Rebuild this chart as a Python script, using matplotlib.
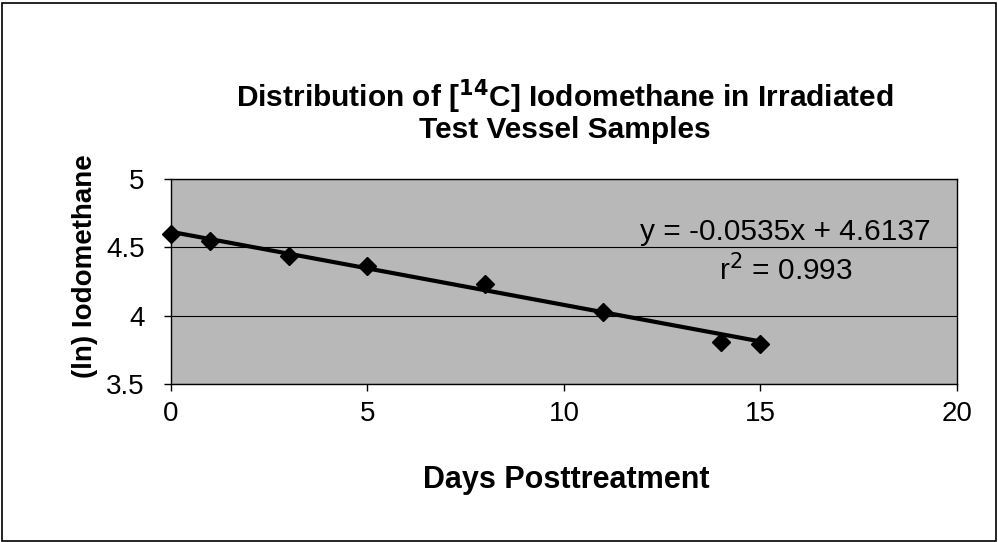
import matplotlib
matplotlib.use("Agg")
import matplotlib.pyplot as plt
import numpy as np
from matplotlib.patches import Rectangle

plt.rcParams['font.family'] = ['Liberation Sans', 'DejaVu Sans']

days = [0, 1, 3, 5, 8, 11, 14, 15]
ln_iodo = [4.60, 4.55, 4.44, 4.36, 4.23, 4.03, 3.81, 3.79]
slope = -0.0535
intercept = 4.6137
r2 = 0.993
x_ticks = [0, 5, 10, 15, 20]
y_ticks = [3.5, 4, 4.5, 5]

fig = plt.figure(figsize=(9.98, 5.42), dpi=100)
fig.patches.append(Rectangle((0.002, 0.002), 0.996, 0.993, transform=fig.transFigure,
                             fill=False, edgecolor='black', linewidth=1.2))

ax = fig.add_axes([0.1713, 0.2915, 0.7876, 0.3782])
ax.set_facecolor('#b8b8b8')
ax.set_xlim(0, 20)
ax.set_ylim(3.5, 5)
ax.set_xticks(x_ticks)
ax.set_yticks(y_ticks)
ax.set_yticklabels(['3.5', '4', '4.5', '5'])
ax.grid(axis='y', color='black', linewidth=0.8)
ax.set_axisbelow(True)
for s in ax.spines.values():
    s.set_linewidth(1.0)
ax.tick_params(direction='out', length=5, width=1, labelsize=20)
ax.tick_params(axis='x', pad=7)
ax.tick_params(axis='y', pad=14)

xs = np.array([days[0], days[-1]])
ax.plot(xs, slope * xs + intercept, color='black', linewidth=3, zorder=3)
ax.plot(days, ln_iodo, linestyle='none', marker='D', markersize=9,
        color='black', zorder=4, clip_on=False)

ax.text(0.781, 0.742, f"y = {slope}x + {intercept}", transform=ax.transAxes,
        ha='center', va='center', fontsize=21.5)
ax.text(0.782, 0.556, f"r$^2$ = {r2}", transform=ax.transAxes,
        ha='center', va='center', fontsize=21.5)

ax.set_xlabel('Days Posttreatment', fontsize=22, fontweight='bold')
ax.xaxis.label.set_va('center')
ax.xaxis.set_label_coords(0.503, -0.468)
ax.set_ylabel('(ln) Iodomethane', fontsize=20, fontweight='bold')
ax.yaxis.label.set_va('center')
ax.yaxis.set_label_coords(-0.109, 0.576)

fig.text(0.566, 0.821, "Distribution of [$^{\\mathbf{14}}$C] Iodomethane in Irradiated",
         ha='center', va='center', fontsize=21.5, fontweight='bold')
fig.text(0.566, 0.760, "Test Vessel Samples",
         ha='center', va='center', fontsize=21.5, fontweight='bold')

fig.savefig('out.png', dpi=100)
